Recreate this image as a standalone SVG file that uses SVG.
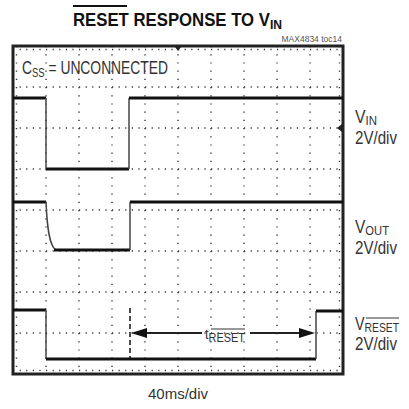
<svg xmlns="http://www.w3.org/2000/svg" width="409" height="409" viewBox="0 0 409 409">
<style>
.t{font-family:"Liberation Sans Narrow","Liberation Sans",Arial,sans-serif;fill:#333}
.b{font-family:"Liberation Sans Narrow","Liberation Sans",Arial,sans-serif;font-weight:bold;fill:#111}
.gh{stroke:#333;stroke-width:1.4;stroke-dasharray:1.2 5.4;fill:none}
.gv{stroke:#333;stroke-width:1.4;stroke-dasharray:1.2 7;fill:none}
.tr{stroke:#111;stroke-width:3;fill:none}
.ed{stroke:#444;stroke-width:1.5;fill:none}
</style>
<rect width="409" height="409" fill="#fff"/>
<g id="title">
<text class="b" x="73" y="26" font-size="18" textLength="209" lengthAdjust="spacingAndGlyphs">RESET RESPONSE TO V<tspan dy="3" font-size="13">IN</tspan></text>
<line x1="73" y1="6" x2="127" y2="6" stroke="#111" stroke-width="2"/>
<text class="t" x="342" y="42" font-size="8.5" text-anchor="end" style="fill:#555">MAX4834 toc14</text>
</g>
<g id="grid">
<path class="gh" d="M13,87H343M13,128H343M13,169H343M13,210H343M13,251H343M13,292H343M13,333H343"/>
<path class="gv" d="M46,46V374M79,46V374M112,46V374M145,46V374M178,46V374M211,46V374M244,46V374M277,46V374M310,46V374"/>
<path class="gh" d="M13,49.5H343M13,370.5H343"/>
<path class="gv" d="M16.5,46V374M339.5,46V374"/>
</g>
<g id="frame">
<rect x="13" y="46" width="330" height="328" fill="none" stroke="#222" stroke-width="3"/>
<polygon points="175,47 181,47 178,51" fill="#222"/>
<polygon points="342,124 342,132 337,128" fill="#222"/>
</g>
<g id="vin-trace">
<path class="tr" d="M13,98H46"/>
<path class="ed" d="M46,98V169"/>
<path class="tr" d="M46,169H129"/>
<path class="ed" d="M129,169V98"/>
<path class="tr" d="M129,98H343"/>
</g>
<g id="vout-trace">
<path class="tr" d="M13,202H46"/>
<path class="ed" d="M46,202C47,225 49,246 56,250"/>
<path class="tr" d="M54,250H130"/>
<path class="ed" d="M130,250V202"/>
<path class="tr" d="M130,202H343"/>
</g>
<g id="vreset-trace">
<path class="tr" d="M13,310H46"/>
<path class="ed" d="M46,310V359"/>
<path class="tr" d="M46,359H316"/>
<path class="ed" d="M316,359V311"/>
<path class="tr" d="M316,311H343"/>
</g>
<g id="connectors">
<line x1="130" y1="308" x2="130" y2="358" stroke="#111" stroke-width="1.5" stroke-dasharray="5 3"/>
<line x1="144" y1="333" x2="202" y2="333" stroke="#222" stroke-width="2"/>
<line x1="250" y1="333" x2="302" y2="333" stroke="#222" stroke-width="2"/>
<polygon points="131,333 147,328 147,338" fill="#111"/>
<polygon points="315,333 299,328 299,338" fill="#111"/>
</g>
<g id="treset-label">
<text class="t" x="205" y="339" font-size="15" textLength="40" lengthAdjust="spacingAndGlyphs">t<tspan dy="3" font-size="13">RESET</tspan></text>
<line x1="211" y1="329" x2="245" y2="329" stroke="#333" stroke-width="1"/>
</g>
<g id="css-label">
<text class="t" x="22" y="74" font-size="19" textLength="146" lengthAdjust="spacingAndGlyphs">C<tspan dy="3" font-size="13">SS</tspan><tspan dy="-3"> = UNCONNECTED</tspan></text>
</g>
<g id="vin-label">
<text class="t" x="355" y="123" font-size="18" textLength="22" lengthAdjust="spacingAndGlyphs">V<tspan dy="2" font-size="13">IN</tspan></text>
<text class="t" x="355" y="144" font-size="18" textLength="42" lengthAdjust="spacingAndGlyphs">2V/div</text>
</g>
<g id="vout-label">
<text class="t" x="355" y="233" font-size="18" textLength="34" lengthAdjust="spacingAndGlyphs">V<tspan dy="2" font-size="13">OUT</tspan></text>
<text class="t" x="355" y="254" font-size="18" textLength="42" lengthAdjust="spacingAndGlyphs">2V/div</text>
</g>
<g id="vreset-label">
<text class="t" x="355" y="330" font-size="18" textLength="44" lengthAdjust="spacingAndGlyphs">V<tspan dy="2" font-size="13">RESET</tspan></text>
<line x1="366" y1="318" x2="399" y2="318" stroke="#333" stroke-width="1"/>
<text class="t" x="355" y="350" font-size="18" textLength="42" lengthAdjust="spacingAndGlyphs">2V/div</text>
</g>
<g id="time-label">
<text class="t" x="178" y="399" font-size="15" text-anchor="middle">40ms/div</text>
</g>
</svg>
